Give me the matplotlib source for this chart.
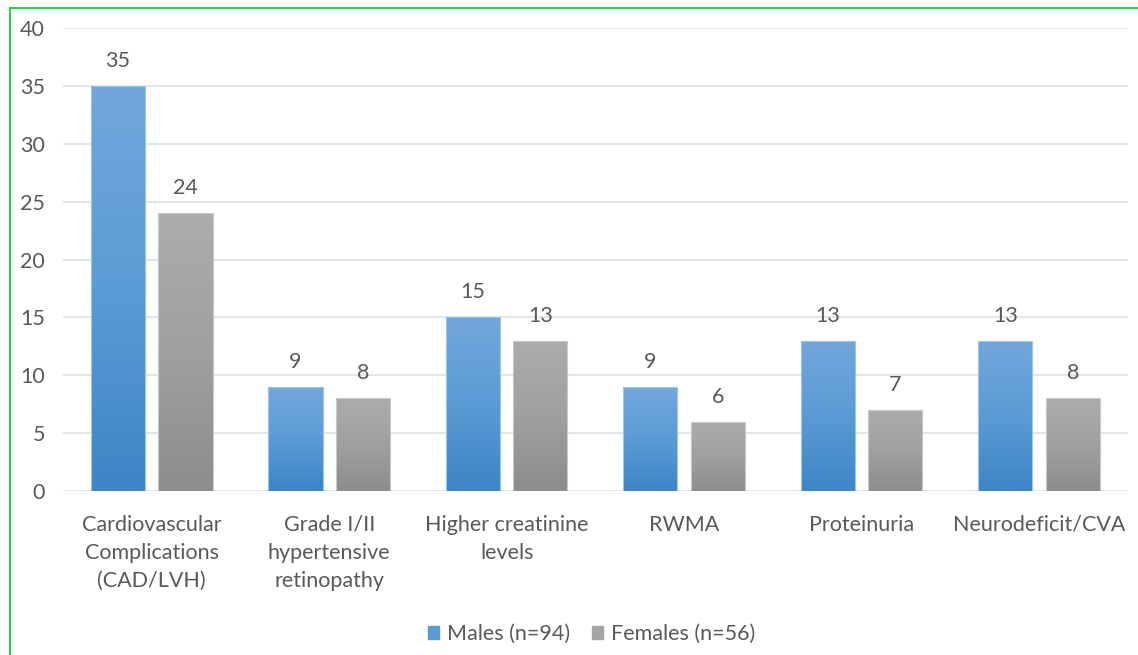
import numpy as np
import matplotlib
matplotlib.use('Agg')
import matplotlib.pyplot as plt
from matplotlib.patches import Rectangle
from matplotlib.colors import LinearSegmentedColormap

plt.rcParams['font.family'] = ['Lato', 'DejaVu Sans']

categories = ['Cardiovascular\nComplications\n(CAD/LVH)', 'Grade I/II\nhypertensive\nretinopathy',
              'Higher creatinine\nlevels', 'RWMA', 'Proteinuria', 'Neurodeficit/CVA']
males = [35, 9, 15, 9, 13, 13]
females = [24, 8, 13, 6, 7, 8]
series_labels = ['Males (n=94)', 'Females (n=56)']

text_color = '#595959'
fs = 15.5
blue_cmap = LinearSegmentedColormap.from_list('b', ['#3d85c6', '#5b9bd5', '#72a7dc'])
gray_cmap = LinearSegmentedColormap.from_list('g', ['#8c8c8c', '#a0a0a0', '#acacac'])

fig = plt.figure(figsize=(11.38, 6.55), dpi=100)
ax = fig.add_axes([0.0554, 0.2504, 0.9356, 0.7066])

x = np.arange(len(categories))
width = 0.305
offset = 0.19
grad = np.linspace(0, 1, 256).reshape(-1, 1)

def gradient_bars(xs, vals, cmap, edge):
    bars = ax.bar(xs, vals, width, color='none', edgecolor=edge, linewidth=0.8, zorder=3)
    for b in bars:
        im = ax.imshow(grad, cmap=cmap, origin='lower', aspect='auto', zorder=2,
                       extent=[b.get_x(), b.get_x() + b.get_width(), 0, b.get_height()])
        im.set_clip_path(b)
    return bars

bm = gradient_bars(x - offset, males, blue_cmap, '#9cc3e8')
bf = gradient_bars(x + offset, females, gray_cmap, '#c8c8c8')

for bars, vals in [(bm, males), (bf, females)]:
    for b, v in zip(bars, vals):
        ax.text(b.get_x() + b.get_width() / 2, v + 1.3, str(v), ha='center', va='bottom',
                fontsize=fs, color=text_color)

ax.set_xlim(-0.5, len(categories) - 0.5)
ax.set_ylim(0, 40)
ax.set_yticks(range(0, 41, 5))
ax.set_xticks(x)
ax.set_xticklabels(categories, linespacing=1.5)
ax.tick_params(axis='both', length=0, labelsize=fs, colors=text_color)
ax.tick_params(axis='y', pad=13)
ax.tick_params(axis='x', pad=17)
ax.grid(axis='y', color='#dde1e8', linewidth=1.2, zorder=0)
ax.set_axisbelow(True)
for s in ax.spines.values():
    s.set_visible(False)

handles = [Rectangle((0, 0), 1, 1, color='#5b9bd5'), Rectangle((0, 0), 1, 1, color='#a5a5a5')]
leg = fig.legend(handles, series_labels, loc='center', bbox_to_anchor=(0.52, 0.032), ncol=2,
                 frameon=False, fontsize=fs, handlelength=0.5, handleheight=0.5,
                 handletextpad=0.4, columnspacing=1.0)
for t in leg.get_texts():
    t.set_color(text_color)

fig.patches.append(Rectangle((10 / 1138, -0.01), 1.0, (655 - 8) / 655 + 0.01, transform=fig.transFigure,
                             fill=False, edgecolor='#2ecc55', linewidth=1.5))

fig.savefig('out.png', dpi=100)
